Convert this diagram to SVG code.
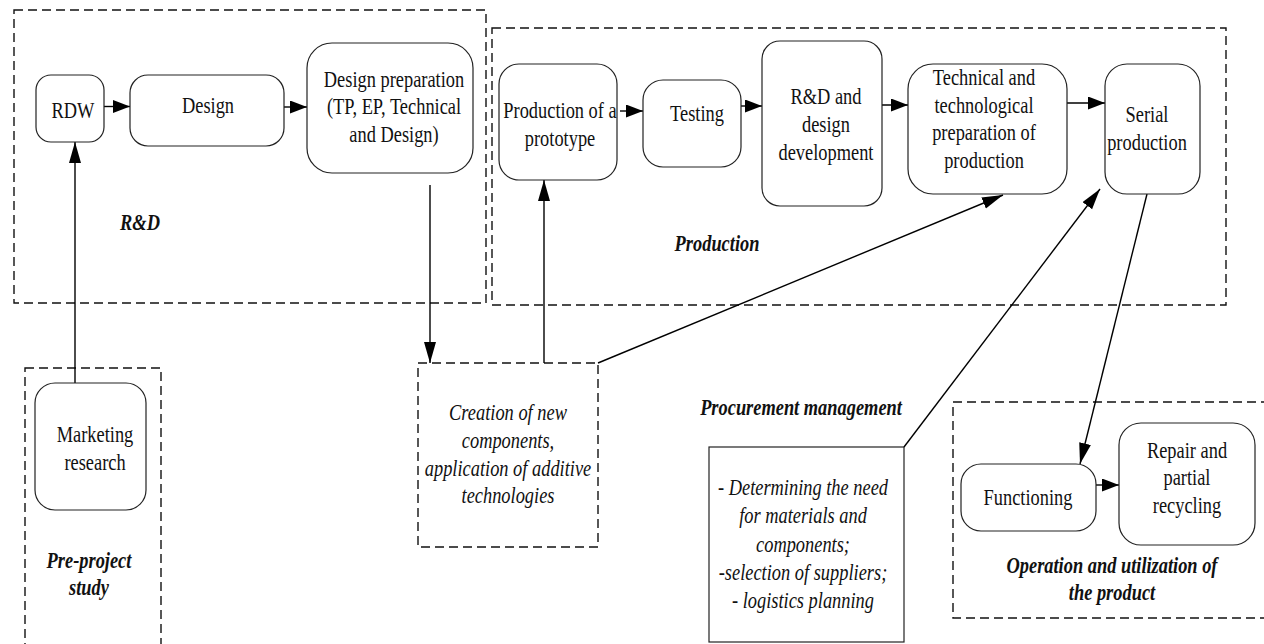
<svg xmlns="http://www.w3.org/2000/svg" width="1264" height="644" viewBox="0 0 1264 644">
<style>
.bg{fill:#fff}
.node{fill:#fff;stroke:#222;stroke-width:1.2}
.area{fill:none;stroke:#111;stroke-width:1.4;stroke-dasharray:9 5}
.solid{fill:#fff;stroke:#222;stroke-width:1.2}
.con{fill:none;stroke:#000;stroke-width:1.4;marker-end:url(#ah)}
.conl{fill:none;stroke:#000;stroke-width:1.4;marker-end:url(#ahl)}
text{font-family:'Liberation Serif','Times New Roman',serif;font-size:23px;fill:#111;text-anchor:middle}
.lab{font-weight:bold;font-style:italic}
.it{font-style:italic}
</style>
<defs>
<marker id="ah" markerUnits="userSpaceOnUse" markerWidth="18" markerHeight="14" refX="17" refY="6.5" orient="auto">
<path d="M0,0 L17,6.5 L0,13 z" fill="#000"/>
</marker>
<marker id="ahl" markerUnits="userSpaceOnUse" markerWidth="22" markerHeight="13" refX="21" refY="6" orient="auto">
<path d="M0,0 L21,6 L0,12 z" fill="#000"/>
</marker>
</defs>
<rect class="bg" x="0" y="0" width="1264" height="644"/>

<g id="area-rd">
<rect class="area" x="14" y="10" width="472" height="293"/>
<text class="lab" transform="matrix(0.8,0,0,1,140,230)">R&amp;D</text>
</g>
<g id="area-production">
<rect class="area" x="492" y="28" width="734" height="277"/>
<text class="lab" transform="matrix(0.8,0,0,1,717,251)">Production</text>
</g>
<g id="area-preproject">
<rect class="area" x="25" y="368" width="136" height="300"/>
<text class="lab" transform="matrix(0.8,0,0,1,89,568)">Pre-project<tspan x="0" dy="27.5">study</tspan></text>
</g>
<g id="area-creation">
<rect class="area" x="418" y="363" width="180" height="184"/>
<text class="it" transform="matrix(0.8,0,0,1,508,420)">Creation of new<tspan x="0" dy="28">components,</tspan><tspan x="0" dy="28.5">application of additive</tspan><tspan x="0" dy="27">technologies</tspan></text>
</g>
<g id="area-operation">
<rect class="area" x="953" y="402" width="330" height="216"/>
<text class="lab" transform="matrix(0.8,0,0,1,1112,573)">Operation and utilization of<tspan x="0" dy="27.5">the product</tspan></text>
</g>
<g id="procurement">
<text class="lab" transform="matrix(0.8,0,0,1,801,415)">Procurement management</text>
<rect class="solid" x="709" y="447" width="195" height="195"/>
<text class="it" transform="matrix(0.8,0,0,1,803,495)">- Determining the need<tspan x="0" dy="28.3">for materials and</tspan><tspan x="0" dy="28.3">components;</tspan><tspan x="0" dy="28.3">-selection of suppliers;</tspan><tspan x="0" dy="28.3">- logistics planning</tspan></text>
</g>

<g id="connectors">
<line class="con" x1="104" y1="106.5" x2="130" y2="106.5"/>
<line class="con" x1="279" y1="107" x2="307" y2="107"/>
<line class="conl" x1="75" y1="383" x2="75" y2="142"/>
<line class="conl" x1="430" y1="185" x2="430" y2="363"/>
<line class="conl" x1="544" y1="363" x2="544" y2="180"/>
<line class="conl" x1="598" y1="363" x2="1003" y2="195"/>
<line class="conl" x1="904" y1="447" x2="1100" y2="189"/>
<line class="conl" x1="1147" y1="194" x2="1080" y2="464"/>
<line class="con" x1="620" y1="111" x2="643" y2="111"/>
<line class="con" x1="741" y1="106" x2="762" y2="106"/>
<line class="con" x1="873" y1="105" x2="908" y2="105"/>
<line class="con" x1="1067" y1="103" x2="1105" y2="103"/>
<line class="con" x1="1096" y1="485" x2="1119" y2="485"/>
</g>

<g id="rdw">
<rect class="node" x="36" y="75" width="68" height="67" rx="15"/>
<text transform="matrix(0.8,0,0,1,73,118)">RDW</text>
</g>
<g id="design">
<rect class="node" x="130" y="75" width="154" height="71" rx="18"/>
<text transform="matrix(0.8,0,0,1,208,113)">Design</text>
</g>
<g id="design-prep">
<rect class="node" x="307" y="43" width="166" height="130" rx="25"/>
<text transform="matrix(0.8,0,0,1,394,87)">Design preparation<tspan x="0" dy="27.5">(TP, EP, Technical</tspan><tspan x="0" dy="27.5">and Design)</tspan></text>
</g>
<g id="prototype">
<rect class="node" x="499" y="64" width="118" height="116" rx="20"/>
<text transform="matrix(0.8,0,0,1,560,118)">Production of a<tspan x="0" dy="28">prototype</tspan></text>
</g>
<g id="testing">
<rect class="node" x="643" y="80" width="98" height="87" rx="20"/>
<text transform="matrix(0.8,0,0,1,697,121)">Testing</text>
</g>
<g id="rd-dev">
<rect class="node" x="762" y="41" width="120" height="165" rx="18"/>
<text transform="matrix(0.8,0,0,1,826,104)">R&amp;D and<tspan x="0" dy="28.5">design</tspan><tspan x="0" dy="27.5">development</tspan></text>
</g>
<g id="tech-prep">
<rect class="node" x="908" y="64" width="159" height="130" rx="25"/>
<text transform="matrix(0.8,0,0,1,984,85)">Technical and<tspan x="0" dy="28">technological</tspan><tspan x="0" dy="27.5">preparation of</tspan><tspan x="0" dy="28">production</tspan></text>
</g>
<g id="serial">
<rect class="node" x="1105" y="64" width="95" height="130" rx="22"/>
<text transform="matrix(0.8,0,0,1,1147,122)">Serial<tspan x="0" dy="28">production</tspan></text>
</g>
<g id="marketing">
<rect class="node" x="35" y="383" width="111" height="127" rx="20"/>
<text transform="matrix(0.8,0,0,1,95,442)">Marketing<tspan x="0" dy="28">research</tspan></text>
</g>
<g id="functioning">
<rect class="node" x="961" y="464" width="135" height="67" rx="20"/>
<text transform="matrix(0.8,0,0,1,1028,505)">Functioning</text>
</g>
<g id="repair">
<rect class="node" x="1119" y="423" width="136" height="122" rx="22"/>
<text transform="matrix(0.8,0,0,1,1187,458)">Repair and<tspan x="0" dy="27.5">partial</tspan><tspan x="0" dy="27.5">recycling</tspan></text>
</g>
</svg>
